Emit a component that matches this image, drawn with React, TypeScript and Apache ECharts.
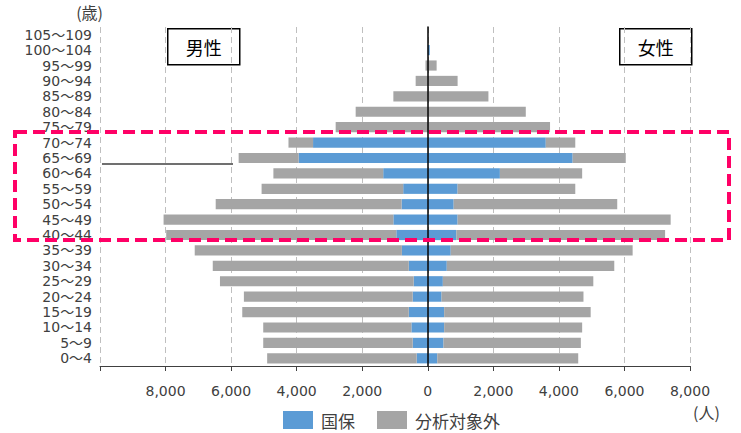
import React, { useEffect, useRef } from "react";
import * as echarts from "echarts";

const ageGroups = [
  "105～109", "100～104", "95～99", "90～94", "85～89", "80～84", "75～79",
  "70～74", "65～69", "60～64", "55～59", "50～54", "45～49", "40～44",
  "35～39", "30～34", "25～29", "20～24", "15～19", "10～14", "5～9", "0～4",
];

const maleTotal = [0, 0, 70, 370, 1050, 2200, 2810, 4250, 5770, 4710, 5070, 6470, 8060, 7980, 7110, 6560, 6340, 5610, 5660, 5020, 5020, 4900];
const maleKokuho = [0, 0, 0, 0, 0, 0, 0, 3500, 3940, 1360, 750, 800, 1050, 960, 790, 580, 430, 460, 580, 500, 460, 340];
const femaleTotal = [0, 60, 270, 910, 1850, 2990, 3730, 4500, 6040, 4710, 4500, 5780, 7410, 7240, 6250, 5690, 5050, 4750, 4970, 4710, 4670, 4590];
const femaleKokuho = [0, 60, 0, 0, 0, 0, 0, 3600, 4420, 2200, 910, 790, 910, 870, 700, 580, 460, 420, 500, 500, 480, 290];

const xTicks = { min: -10000, max: 8000, interval: 2000 };
const legendNames = ["国保", "分析対象外"];

const BLUE = "#5B9BD5";
const GRAY = "#A5A5A5";
const FONT = "'Noto Sans CJK JP', 'Noto Sans', sans-serif";
const NUMFONT = "'DejaVu Sans', 'Noto Sans CJK JP', sans-serif";

export default function App() {
  const ref = useRef<HTMLDivElement>(null);
  useEffect(() => {
    if (!ref.current) return;
    const chart = echarts.init(ref.current, null, { renderer: "svg" });
    const maleOther = maleTotal.map((t, i) => -(t - maleKokuho[i]));
    const femaleOther = femaleTotal.map((t, i) => t - femaleKokuho[i]);
    const barCommon = { type: "bar", barCategoryGap: "34%", barGap: "-100%" };
    chart.setOption({
      animation: false,
      textStyle: { fontFamily: FONT },
      grid: { left: 100, right: 51, top: 27, bottom: 67, containLabel: false },
      legend: {
        data: legendNames,
        icon: "rect",
        left: 283,
        bottom: 4,
        padding: 0,
        itemWidth: 30,
        itemHeight: 18,
        itemGap: 22,
        textStyle: { fontSize: 17, color: "#404040", fontFamily: FONT, padding: [0, 0, 0, 3] },
      },
      xAxis: {
        type: "value",
        min: xTicks.min,
        max: xTicks.max,
        interval: xTicks.interval,
        axisLine: { show: true, lineStyle: { color: "#404040", width: 1 } },
        axisTick: { show: true, length: 5, lineStyle: { color: "#404040" } },
        axisLabel: {
          margin: 18,
          fontSize: 14,
          color: "#404040",
          fontFamily: NUMFONT,
          formatter: (v: number) => (v === xTicks.min ? "" : Math.abs(v).toLocaleString("en-US")),
        },
        splitLine: { show: true, lineStyle: { color: "#BFBFBF", type: [6, 4], width: 1 } },
      },
      yAxis: {
        type: "category",
        data: ageGroups,
        inverse: true,
        axisLine: { show: true, onZero: true, lineStyle: { color: "#000000", width: 1.5 } },
        axisTick: { show: false },
        axisLabel: { margin: 8, fontSize: 14, lineHeight: 14, color: "#404040", fontFamily: NUMFONT, interval: 0 },
        z: 5,
      },
      series: [
        { ...barCommon, name: "国保", stack: "male", data: maleKokuho.map((v) => -v), itemStyle: { color: BLUE } },
        { ...barCommon, name: "分析対象外", stack: "male", data: maleOther, itemStyle: { color: GRAY } },
        { ...barCommon, name: "国保", stack: "female", data: femaleKokuho, itemStyle: { color: BLUE } },
        { ...barCommon, name: "分析対象外", stack: "female", data: femaleOther, itemStyle: { color: GRAY } },
      ],
      graphic: [
        {
          type: "text",
          right: 741 - 103,
          top: 4,
          style: { text: "(歳)", fill: "#404040", font: `16px ${FONT}` },
        },
        {
          type: "text",
          left: 693,
          top: 404,
          style: { text: "(人)", fill: "#404040", font: `16px ${FONT}` },
        },
        {
          type: "group",
          left: 167,
          top: 28,
          children: [
            { type: "rect", shape: { x: 0, y: 0, width: 72, height: 36 }, style: { fill: "#fff", stroke: "#000", lineWidth: 1.5 } },
            { type: "text", x: 36, y: 18, style: { text: "男性", font: `18px ${FONT}`, fill: "#000", align: "center", verticalAlign: "middle" } },
          ],
          z: 10,
        },
        {
          type: "group",
          left: 619,
          top: 28,
          children: [
            { type: "rect", shape: { x: 0, y: 0, width: 72, height: 36 }, style: { fill: "#fff", stroke: "#000", lineWidth: 1.5 } },
            { type: "text", x: 36, y: 18, style: { text: "女性", font: `18px ${FONT}`, fill: "#000", align: "center", verticalAlign: "middle" } },
          ],
          z: 10,
        },
        {
          type: "line",
          shape: { x1: 102, y1: 164, x2: 233, y2: 164 },
          style: { stroke: "#404040", lineWidth: 1.5 },
          z: 10,
        },
        {
          type: "rect",
          shape: { x: 15, y: 132, width: 714, height: 108 },
          style: { fill: "none", stroke: "#FF0066", lineWidth: 4, lineDash: [12, 6] },
          z: 20,
        },
      ],
    });
    return () => chart.dispose();
  }, []);
  return (
    <div
      ref={ref}
      style={{ position: "fixed", left: 0, top: 0, width: 741, height: 433, background: "#fff" }}
    />
  );
}
